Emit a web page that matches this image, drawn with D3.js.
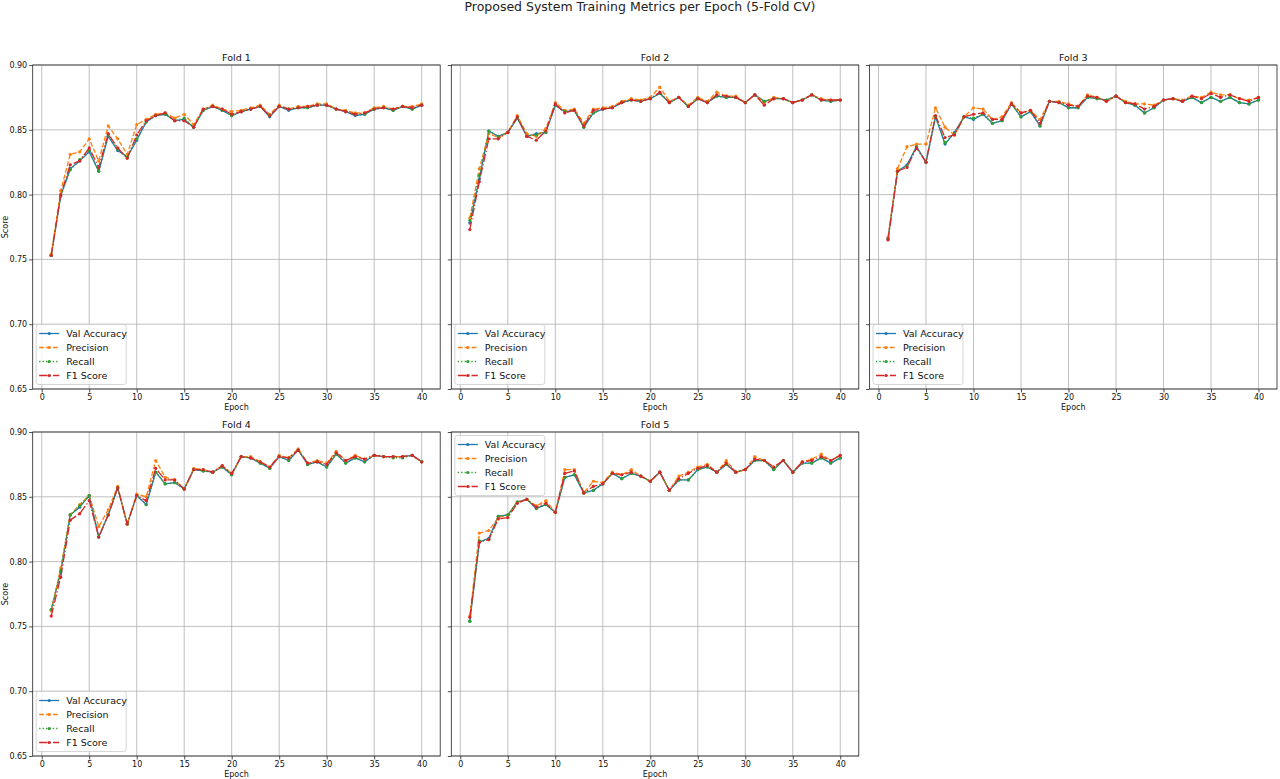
<!DOCTYPE html>
<html><head><meta charset="utf-8">
<script src="https://cdn.jsdelivr.net/npm/d3@7"></script>
<style>html,body{margin:0;padding:0;background:#fff;}svg{display:block;font-family:"DejaVu Sans",sans-serif;}</style>
</head><body>
<svg id="chart" width="1280" height="779"></svg>
<script>
const epochs = [1,2,3,4,5,6,7,8,9,10,11,12,13,14,15,16,17,18,19,20,21,22,23,24,25,26,27,28,29,30,31,32,33,34,35,36,37,38,39,40];
const seriesNames = ["Val Accuracy","Precision","Recall","F1 Score"];
const foldTitles = ["Fold 1","Fold 2","Fold 3","Fold 4","Fold 5"];
const xTicks = [0,5,10,15,20,25,30,35,40];
const yTicks = [0.65,0.70,0.75,0.80,0.85,0.90];

const fold1Acc = [0.753,0.799,0.820,0.826,0.833,0.818,0.845,0.834,0.829,0.842,0.856,0.861,0.862,0.857,0.858,0.852,0.865,0.868,0.865,0.861,0.864,0.866,0.868,0.860,0.868,0.865,0.867,0.867,0.869,0.869,0.866,0.864,0.861,0.862,0.866,0.867,0.865,0.868,0.866,0.869];
const fold1Prec = [0.754,0.803,0.831,0.833,0.843,0.826,0.853,0.843,0.831,0.854,0.858,0.862,0.863,0.859,0.862,0.854,0.866,0.869,0.866,0.864,0.865,0.867,0.869,0.862,0.869,0.866,0.868,0.868,0.870,0.870,0.866,0.865,0.863,0.863,0.867,0.868,0.866,0.868,0.868,0.870];
const fold1Rec = [0.753,0.799,0.819,0.827,0.834,0.818,0.846,0.835,0.829,0.843,0.856,0.861,0.862,0.857,0.859,0.852,0.865,0.868,0.865,0.861,0.864,0.866,0.868,0.861,0.868,0.866,0.867,0.867,0.869,0.869,0.866,0.864,0.862,0.862,0.866,0.867,0.865,0.868,0.866,0.869];
const fold1F1 = [0.753,0.800,0.823,0.826,0.836,0.821,0.847,0.836,0.828,0.846,0.857,0.861,0.863,0.857,0.857,0.852,0.866,0.868,0.866,0.862,0.864,0.866,0.868,0.861,0.868,0.866,0.867,0.868,0.869,0.869,0.866,0.864,0.862,0.863,0.866,0.867,0.866,0.868,0.867,0.869];

const fold2Acc = [0.778,0.812,0.849,0.845,0.848,0.859,0.845,0.847,0.848,0.869,0.864,0.865,0.852,0.863,0.866,0.867,0.871,0.873,0.872,0.874,0.878,0.871,0.875,0.868,0.874,0.871,0.876,0.875,0.875,0.871,0.877,0.872,0.874,0.874,0.871,0.873,0.877,0.873,0.872,0.873];
const fold2Prec = [0.782,0.820,0.847,0.844,0.848,0.861,0.847,0.845,0.851,0.871,0.865,0.866,0.855,0.866,0.867,0.868,0.872,0.874,0.873,0.875,0.883,0.872,0.875,0.869,0.875,0.872,0.879,0.876,0.876,0.871,0.877,0.871,0.875,0.874,0.871,0.873,0.877,0.874,0.873,0.873];
const fold2Rec = [0.780,0.815,0.849,0.845,0.848,0.859,0.845,0.846,0.848,0.869,0.864,0.865,0.852,0.863,0.866,0.867,0.871,0.873,0.872,0.874,0.878,0.871,0.875,0.868,0.874,0.871,0.876,0.875,0.875,0.871,0.877,0.872,0.874,0.874,0.871,0.873,0.877,0.873,0.872,0.873];
const fold2F1 = [0.773,0.810,0.843,0.843,0.848,0.860,0.845,0.842,0.849,0.870,0.863,0.865,0.853,0.865,0.866,0.867,0.871,0.873,0.872,0.874,0.879,0.871,0.875,0.868,0.874,0.871,0.877,0.876,0.875,0.871,0.877,0.869,0.874,0.874,0.871,0.873,0.877,0.873,0.873,0.873];

const fold3Acc = [0.766,0.818,0.823,0.837,0.825,0.860,0.839,0.848,0.860,0.858,0.862,0.855,0.857,0.870,0.860,0.864,0.853,0.872,0.871,0.867,0.867,0.875,0.874,0.873,0.876,0.871,0.869,0.863,0.867,0.873,0.874,0.872,0.875,0.871,0.875,0.872,0.875,0.871,0.870,0.873];
const fold3Prec = [0.767,0.820,0.837,0.839,0.839,0.867,0.852,0.846,0.860,0.867,0.866,0.858,0.860,0.871,0.863,0.865,0.858,0.872,0.872,0.870,0.868,0.877,0.875,0.872,0.876,0.872,0.870,0.870,0.869,0.873,0.874,0.873,0.876,0.875,0.879,0.877,0.877,0.874,0.873,0.875];
const fold3Rec = [0.766,0.818,0.822,0.837,0.825,0.860,0.840,0.847,0.860,0.859,0.862,0.855,0.857,0.870,0.860,0.864,0.853,0.872,0.871,0.867,0.867,0.875,0.874,0.873,0.876,0.871,0.869,0.863,0.867,0.873,0.874,0.872,0.875,0.871,0.875,0.872,0.875,0.871,0.870,0.873];
const fold3F1 = [0.765,0.818,0.821,0.836,0.825,0.861,0.844,0.846,0.860,0.862,0.863,0.858,0.858,0.870,0.863,0.865,0.855,0.872,0.871,0.869,0.868,0.876,0.875,0.872,0.876,0.871,0.870,0.866,0.868,0.873,0.874,0.872,0.876,0.874,0.878,0.875,0.877,0.874,0.872,0.875];

const fold4Acc = [0.763,0.792,0.836,0.842,0.851,0.819,0.836,0.857,0.829,0.851,0.844,0.869,0.860,0.861,0.856,0.871,0.870,0.869,0.873,0.867,0.881,0.880,0.876,0.872,0.881,0.878,0.886,0.875,0.877,0.873,0.883,0.876,0.880,0.877,0.882,0.881,0.881,0.881,0.882,0.877];
const fold4Prec = [0.762,0.795,0.836,0.844,0.851,0.827,0.840,0.858,0.829,0.852,0.850,0.878,0.865,0.863,0.856,0.872,0.871,0.869,0.874,0.868,0.881,0.881,0.877,0.873,0.882,0.880,0.887,0.876,0.878,0.876,0.885,0.878,0.882,0.879,0.882,0.881,0.881,0.881,0.882,0.877];
const fold4Rec = [0.763,0.793,0.836,0.843,0.851,0.819,0.836,0.857,0.829,0.851,0.844,0.869,0.860,0.861,0.856,0.871,0.870,0.869,0.873,0.867,0.881,0.880,0.876,0.872,0.881,0.878,0.886,0.875,0.877,0.873,0.883,0.876,0.880,0.877,0.882,0.881,0.880,0.880,0.882,0.877];
const fold4F1 = [0.758,0.788,0.832,0.837,0.847,0.819,0.836,0.857,0.829,0.851,0.847,0.872,0.863,0.863,0.856,0.871,0.871,0.869,0.874,0.868,0.881,0.880,0.877,0.873,0.881,0.880,0.886,0.876,0.877,0.875,0.884,0.878,0.881,0.879,0.882,0.881,0.881,0.881,0.882,0.877];

const fold5Acc = [0.754,0.815,0.818,0.835,0.836,0.846,0.848,0.841,0.844,0.838,0.865,0.867,0.853,0.855,0.860,0.868,0.864,0.868,0.866,0.862,0.869,0.855,0.863,0.863,0.871,0.873,0.869,0.875,0.869,0.871,0.878,0.878,0.871,0.878,0.869,0.876,0.876,0.880,0.876,0.880];
const fold5Prec = [0.758,0.822,0.824,0.834,0.836,0.846,0.848,0.843,0.847,0.838,0.871,0.871,0.853,0.862,0.861,0.869,0.867,0.871,0.866,0.862,0.869,0.855,0.866,0.869,0.873,0.875,0.869,0.878,0.869,0.871,0.881,0.878,0.873,0.878,0.869,0.877,0.879,0.883,0.878,0.882];
const fold5Rec = [0.754,0.816,0.817,0.835,0.836,0.846,0.848,0.841,0.844,0.838,0.865,0.867,0.853,0.855,0.860,0.868,0.864,0.868,0.866,0.862,0.869,0.855,0.863,0.863,0.871,0.873,0.869,0.875,0.869,0.871,0.878,0.878,0.871,0.878,0.869,0.876,0.876,0.880,0.876,0.880];
const fold5F1 = [0.757,0.815,0.817,0.833,0.834,0.845,0.848,0.842,0.845,0.838,0.868,0.870,0.853,0.858,0.860,0.868,0.867,0.869,0.866,0.862,0.869,0.855,0.864,0.868,0.872,0.874,0.869,0.876,0.869,0.871,0.879,0.878,0.873,0.878,0.869,0.877,0.878,0.881,0.878,0.882];

const folds = [
  [fold1Acc, fold1Prec, fold1Rec, fold1F1],
  [fold2Acc, fold2Prec, fold2Rec, fold2F1],
  [fold3Acc, fold3Prec, fold3Rec, fold3F1],
  [fold4Acc, fold4Prec, fold4Rec, fold4F1],
  [fold5Acc, fold5Prec, fold5Rec, fold5F1]
];

const colors = ["#1f77b4","#ff7f0e","#2ca02c","#d62728"];
const dashes = [null, "4.8,2.1", "1.3,2.1", "8.3,2.1,1.3,2.1"];

const svg = d3.select("#chart");
svg.append("text").attr("x", 640).attr("y", 11).attr("text-anchor","middle")
  .attr("font-size", 12.5).attr("fill","#222").text("Proposed System Training Metrics per Epoch (5-Fold CV)");

const colLeft = [32.7, 451.3, 869.5];
const rowTop = [65, 432];
const W = 407.5, H = 324;

folds.forEach((series, i) => {
  const col = i % 3, row = Math.floor(i / 3);
  const g = svg.append("g").attr("transform", `translate(${colLeft[col]},${rowTop[row]})`);
  const x = d3.scaleLinear().domain([-0.95, 41.95]).range([0, W]);
  const y = d3.scaleLinear().domain([0.65, 0.90]).range([H, 0]);

  // grid
  g.append("g").selectAll("line").data(xTicks).join("line")
    .attr("x1", d => x(d)).attr("x2", d => x(d)).attr("y1", 0).attr("y2", H)
    .attr("stroke", "#b0b0b0").attr("stroke-width", 0.8);
  g.append("g").selectAll("line").data(yTicks).join("line")
    .attr("x1", 0).attr("x2", W).attr("y1", d => y(d)).attr("y2", d => y(d))
    .attr("stroke", "#b0b0b0").attr("stroke-width", 0.8);

  // axes
  const xa = g.append("g").attr("transform", `translate(0,${H})`)
    .call(d3.axisBottom(x).tickValues(xTicks).tickSize(3.5).tickPadding(2).tickFormat(d3.format("d")));
  xa.select(".domain").remove();
  xa.selectAll("text").attr("font-size", 8).attr("fill", "#111").attr("font-family", "DejaVu Sans");
  xa.selectAll("line").attr("stroke", "#222").attr("stroke-width", 0.8);

  const ya = g.append("g")
    .call(d3.axisLeft(y).tickValues(yTicks).tickSize(3.5).tickPadding(2)
      .tickFormat(col === 0 ? d3.format(".2f") : () => ""));
  ya.select(".domain").remove();
  ya.selectAll("text").attr("font-size", 8).attr("fill", "#111").attr("font-family", "DejaVu Sans");
  ya.selectAll("line").attr("stroke", "#222").attr("stroke-width", 0.8);

  // lines
  series.forEach((vals, k) => {
    const pts = epochs.map((e, j) => [e, vals[j]]);
    const line = d3.line().x(d => x(d[0])).y(d => y(d[1]));
    g.append("path").datum(pts).attr("d", line).attr("fill", "none")
      .attr("stroke", colors[k]).attr("stroke-width", 1.3)
      .attr("stroke-dasharray", dashes[k]).attr("stroke-linejoin", "round");
    g.append("g").selectAll("circle").data(pts).join("circle")
      .attr("cx", d => x(d[0])).attr("cy", d => y(d[1])).attr("r", 1.6)
      .attr("fill", colors[k]);
  });

  // frame
  g.append("rect").attr("x", 0).attr("y", 0).attr("width", W).attr("height", H)
    .attr("fill", "none").attr("stroke", "#222").attr("stroke-width", 0.8);

  // title & labels
  g.append("text").attr("x", W / 2).attr("y", -4).attr("text-anchor", "middle")
    .attr("font-size", 9.5).attr("fill", "#111").text(foldTitles[i]);
  g.append("text").attr("x", W / 2).attr("y", H + 21).attr("text-anchor", "middle")
    .attr("font-size", 8).attr("fill", "#111").text("Epoch");
  if (col === 0) {
    g.append("text").attr("transform", `translate(${-25},${H / 2}) rotate(-90)`)
      .attr("text-anchor", "middle").attr("font-size", 8).attr("fill", "#111").text("Score");
  }

  // legend
  const lw = 90, lh = 60;
  const lx = 3.5, ly = (i === 4) ? 3.5 : H - lh - 4.5;
  const lg = g.append("g").attr("transform", `translate(${lx},${ly})`);
  lg.append("rect").attr("width", lw).attr("height", lh).attr("rx", 2.5)
    .attr("fill", "#fff").attr("fill-opacity", 0.8).attr("stroke", "#cccccc").attr("stroke-width", 0.8);
  seriesNames.forEach((name, k) => {
    const yy = 9 + k * 14;
    lg.append("line").attr("x1", 3).attr("x2", 23).attr("y1", yy).attr("y2", yy)
      .attr("stroke", colors[k]).attr("stroke-width", 1.3).attr("stroke-dasharray", dashes[k]);
    lg.append("circle").attr("cx", 13).attr("cy", yy).attr("r", 1.6).attr("fill", colors[k]);
    lg.append("text").attr("x", 30).attr("y", yy + 3.5).attr("font-size", 9.5)
      .attr("fill", "#111").text(name);
  });
});
</script>
</body></html>
